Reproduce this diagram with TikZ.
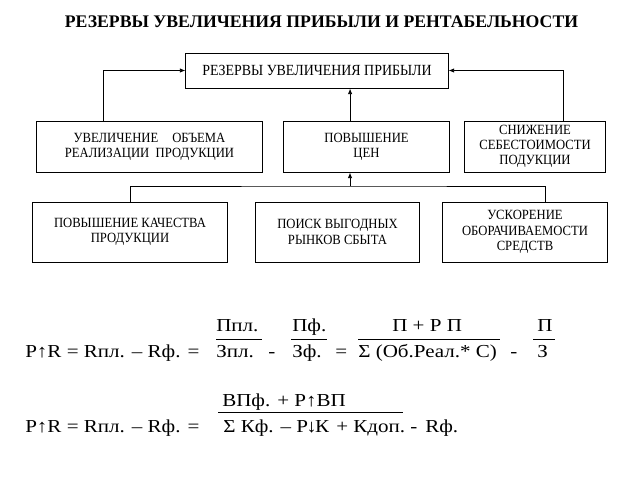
\documentclass[tikz,border=0pt]{standalone}
\usepackage{fontspec}
\setmainfont{Liberation Serif}
\newfontfamily\narrowfont[FakeStretch=0.9]{Liberation Serif}
\newfontfamily\wideformfont[FakeStretch=1.15]{Liberation Serif}
\usetikzlibrary{arrows.meta}

\tikzset{boxnode/.style={rectangle, draw, line width=0.7pt, align=center, inner sep=2pt, font=\narrowfont\fontsize{10}{10.8}\selectfont}}
\tikzset{linkarrow/.style={line width=0.6pt, -{Latex[length=1.4mm,width=1.1mm]}}}
\tikzset{formnode/.style={anchor=base west, inner sep=0pt, font=\wideformfont\fontsize{13}{16}\selectfont}}

\begin{document}
\begin{tikzpicture}[x=0.025cm, y=-0.025cm]
		\useasboundingbox (0,0) rectangle (640,480);

		%title
		\node (title) at (321.5,22) {\fontsize{12.6}{15}\selectfont\bfseries РЕЗЕРВЫ УВЕЛИЧЕНИЯ ПРИБЫЛИ И РЕНТАБЕЛЬНОСТИ};

		%boxes
		\node[boxnode, minimum width=6.55cm, minimum height=0.875cm, font=\narrowfont\fontsize{11}{12}\selectfont] (reserve) at (317,70.5) {РЕЗЕРВЫ УВЕЛИЧЕНИЯ ПРИБЫЛИ};

		\node[boxnode, minimum width=5.625cm, minimum height=1.275cm] (volume) at (149.5,146.5) {УВЕЛИЧЕНИЕ\quad ОБЪЕМА \\ РЕАЛИЗАЦИИ~ ПРОДУКЦИИ};
		\node[boxnode, minimum width=4.125cm, minimum height=1.275cm] (price) at (366.5,146.5) {ПОВЫШЕНИЕ \\ ЦЕН};
		\node[boxnode, minimum width=3.5cm, minimum height=1.275cm] (cost) at (535,146.5) {СНИЖЕНИЕ \\ СЕБЕСТОИМОСТИ \\ ПОДУКЦИИ};

		\node[boxnode, minimum width=4.85cm, minimum height=1.5cm] (quality) at (130,232) {ПОВЫШЕНИЕ КАЧЕСТВА \\ ПРОДУКЦИИ};
		\node[boxnode, minimum width=4.075cm, minimum height=1.5cm] (market) at (337.5,232) {ПОИСК ВЫГОДНЫХ \\ РЫНКОВ СБЫТА};
		\node[boxnode, minimum width=4.1cm, minimum height=1.5cm] (turnover) at (525,232) {УСКОРЕНИЕ \\ ОБОРАЧИВАЕМОСТИ \\ СРЕДСТВ};

		%links
		\draw[linkarrow] ([xshift=-1.16cm]volume.north) |- (reserve.west);
		\draw[linkarrow] ([xshift=0.7cm]cost.north) |- (reserve.east);
		\draw[linkarrow] ([xshift=-0.41cm]price.north) -- ([xshift=-0.41cm]price.north |- reserve.south);

		\coordinate (bus) at (350,186);
		\draw[line width=0.6pt] (quality.north) |- (bus) -| ([xshift=0.52cm]turnover.north);
		\draw[linkarrow] (bus) -- (bus |- price.south);

		%first formula
		\node[formnode] (lhsA) at (25,357) {Р↑R = Rпл. – Rф. =};
		\node[formnode] (ppl) at (216,331) {Ппл.};
		\node[formnode] (zpl) at (216,357) {Зпл.};
		\node[formnode] (minA) at (268,357) {-};
		\node[formnode] (pf) at (292,331) {Пф.};
		\node[formnode] (zf) at (292,357) {Зф.};
		\node[formnode] (eqA) at (335,357) {=};
		\node[formnode] (pnum) at (392,331) {П + Р П};
		\node[formnode] (sumA) at (358,357) {Σ (Об.Реал.* С)};
		\node[formnode] (minB) at (510,357) {-};
		\node[formnode] (pp) at (537,331) {П};
		\node[formnode] (zz) at (537,357) {З};

		\draw[line width=0.7pt] (216,339) -- (262,339);
		\draw[line width=0.7pt] (291,339) -- (327,339);
		\draw[line width=0.7pt] (358,339) -- (500,339);
		\draw[line width=0.7pt] (533,339) -- (555,339);

		%second formula
		\node[formnode] (lhsB) at (25,432) {Р↑R = Rпл. – Rф. =};
		\node[formnode] (vpnum) at (222,406) {ВПф. + Р↑ВП};
		\node[formnode] (kden) at (223,432) {Σ Кф. – Р\kern-0.1em↓\kern-0.1emК};
		\node[formnode] (kdop) at (336,432) {+ Кдоп.};
		\node[formnode] (minC) at (410,432) {-};
		\node[formnode] (rf) at (425,432) {Rф.};

		\draw[line width=0.7pt] (218,412) -- (403,412);

\end{tikzpicture}
\end{document}
